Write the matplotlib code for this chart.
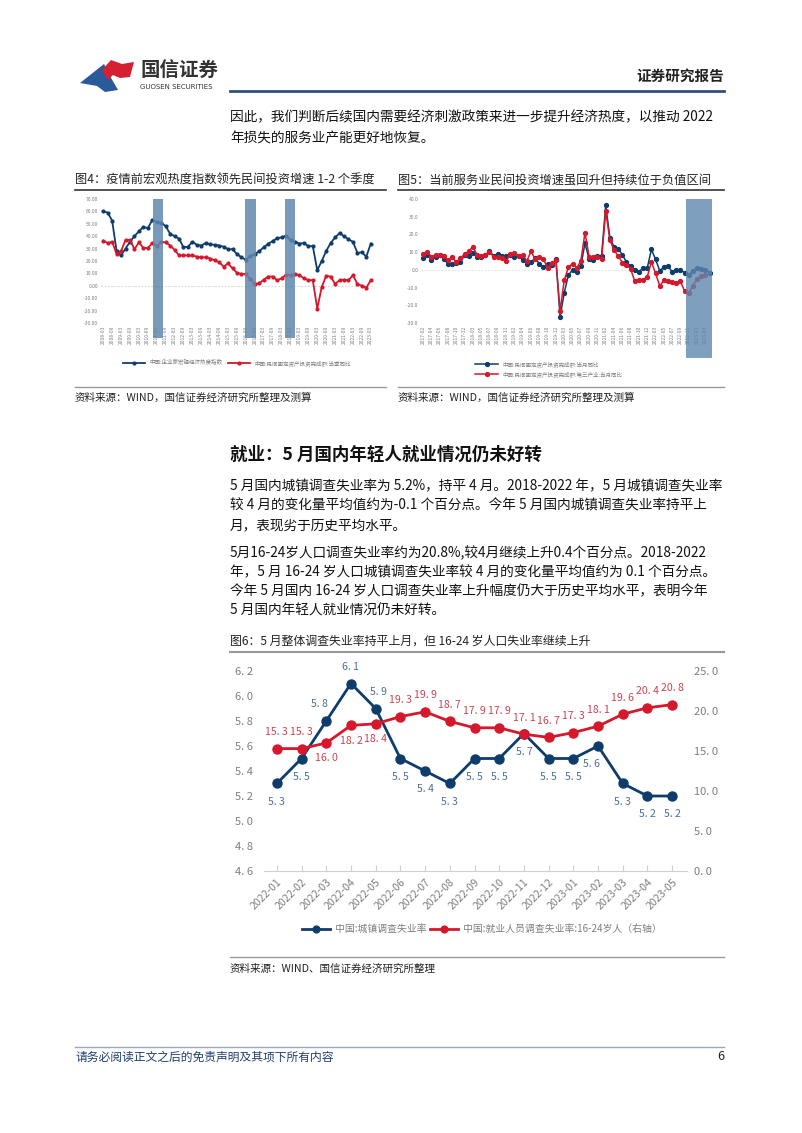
import matplotlib.pyplot as plt
import numpy as np

plt.rcParams['font.family'] = ['Noto Sans CJK SC', 'DejaVu Sans']
plt.rcParams['axes.unicode_minus'] = False

W, H = 802, 1133
BLUE = '#0f3d6b'
RED = '#d5182b'
BAND = '#5f87ae'
GRAY = '#7f7f7f'

# ---------- 图4 数据（季度）----------
q_labels = [f"{y}-{m:02d}" for y in range(2008, 2024) for m in (3, 6, 9, 12)][:61]
heat_index = [60, 59, 52.5, 28, 24.5, 30, 35.5, 40, 44, 47.5,
              46.5, 53, 51.5, 51, 48, 42, 40, 38, 31, 31.5,
              35.5, 33, 32.5, 34.5, 33.5, 33, 32.5, 31.5, 29.5, 29.5,
              25.5, 23, 21, 24, 25.5, 28, 31, 34, 36, 38.5,
              39, 40.5, 37, 35.5, 34, 34.5, 32, 32, 12.5, 20,
              28, 34.5, 39, 42.5, 40, 37.5, 35.5, 26.5, 27, 23.5, 34]
private_inv_q = [36.5, 34.5, 35.5, 25.5, 28, 37, 37, 29.5, 35, 30.5,
                 30.5, 34.5, 32, 35.5, 35, 32.5, 29, 24.5, 24.5, 24.5,
                 24.5, 23.5, 23, 23, 22, 20.5, 19, 15.5, 18, 14,
                 10.5, 9.5, 9.5, 5.5, 1.5, 2, 5, 7.5, 7.5, 4.5,
                 6, 9, 8.5, 9.5, 8.5, 6, 4.5, 4.5, -18.5, -1,
                 8, 7.5, 1.5, 4.5, 5, 4.5, 8.5, 1.5, 0, -1.5, 4.5]
bands4 = [(11.2, 13.5), (31.9, 34.2), (40.7, 42.9)]

# ---------- 图5 数据（月度，无1月）----------
m_labels = [f"{y}-{m:02d}" for y in range(2017, 2024) for m in range(2, 13)][:70]
private_inv_m = [6.5, 8.5, 5.5, 7, 8.5, 6, 3.5, 3.5, 4, 4.5, 8.5,
                 8, 9.5, 7.5, 7.5, 8.5, 10.5, 8, 9, 8, 8, 8.5,
                 7.5, 8, 5.5, 3.5, 4.5, 6.5, 3.5, 1.5, 3.5, 2.5, 6,
                 -26.5, -13, -3, 0, -1, 2, 15, 6, 5.5, 8, 8,
                 36.5, 18, 13, 12, 8.5, 4.5, 2, 0, -1, 1, 1,
                 11.5, 6, -0.5, 1.5, 2, -1, 0, 0, -1.5, -3, -0.5,
                 1, 0.5, 0, -1.5]
tertiary_inv_m = [9, 10, 7.5, 8.5, 8.5, 8, 5.5, 7, 4.5, 6.5, 9,
                  10.5, 13, 8.5, 8, 8.5, 10, 7.5, 7, 6.5, 5, 9,
                  9.5, 8, 8.5, 5, 10.5, 6, 7, 6, 1, 4, 5.5,
                  -23, -6, 1.5, 3.5, 1, 5, 21, 7.5, 7, 7, 6,
                  33, 17, 11, 8, 4, 3, 0.5, -6.5, -5.5, -5.5, -4,
                  4.5, -2, -9, -6, -6.5, -7, -7.5, -6.5, -12, -13, -9,
                  -5, -3.5, -3, np.nan]
band5 = (63.3, 69.6)

# ---------- 图6 数据 ----------
months6 = ['2022-01', '2022-02', '2022-03', '2022-04', '2022-05', '2022-06',
           '2022-07', '2022-08', '2022-09', '2022-10', '2022-11', '2022-12',
           '2023-01', '2023-02', '2023-03', '2023-04', '2023-05']
urban_rate = [5.3, 5.5, 5.8, 6.1, 5.9, 5.5, 5.4, 5.3, 5.5, 5.5, 5.7, 5.5,
              5.5, 5.6, 5.3, 5.2, 5.2]
youth_rate = [15.3, 15.3, 16.0, 18.2, 18.4, 19.3, 19.9, 18.7, 17.9, 17.9,
              17.1, 16.7, 17.3, 18.1, 19.6, 20.4, 20.8]


def fmt(v, d=1):
    return f"{v:.{d}f}".replace('.', '. ')


def rect(x0, y0, x1, y1):
    # 像素框（左上原点）转为 figure 坐标
    return [x0 / W, 1 - y1 / H, (x1 - x0) / W, (y1 - y0) / H]


fig = plt.figure(figsize=(W / 100, H / 100), dpi=100)
fig.patch.set_facecolor('white')

page = fig.add_axes([0, 0, 1, 1])
page.set_xlim(0, W)
page.set_ylim(H, 0)
page.axis('off')

# logo
page.add_patch(plt.Polygon([(80, 83), (104, 64), (110, 76), (118, 90), (105, 92), (97, 86)],
                           closed=True, color='#2a5a9a', lw=0))
page.add_patch(plt.Polygon([(102, 70), (111, 60), (122, 64), (134, 62), (130, 77), (120, 78),
                            (113, 75), (108, 80)], closed=True, color='#d42030', lw=0))
page.text(140, 71, '国信证券', fontsize=14, color='#333333', va='center', ha='left', fontweight='bold')
page.text(140, 87, 'GUOSEN SECURITIES', fontsize=5, color='#333333', va='center', ha='left',
          family=['Liberation Sans Narrow', 'DejaVu Sans'])
page.text(724, 76, '证券研究报告', fontsize=10.5, color='#222222', va='center', ha='right', fontweight='bold')
page.plot([230, 724], [91, 91], color='#2f4f7a', lw=2)

X0 = 230
body = dict(fontsize=9.85, color='#111111', va='center', ha='left')
page.text(X0, 117, '因此，我们判断后续国内需要经济刺激政策来进一步提升经济热度，以推动 2022', **body)
page.text(X0, 138, '年损失的服务业产能更好地恢复。', **body)

# 图4/图5 标题与来源
page.text(75, 180, '图4：疫情前宏观热度指数领先民间投资增速 1-2 个季度', fontsize=8.8, color='#222222', va='center')
page.text(398, 180, '图5：当前服务业民间投资增速虽回升但持续位于负值区间', fontsize=8.8, color='#222222', va='center')
page.plot([75, 386], [190, 190], color='#333333', lw=1.2)
page.plot([398, 724], [190, 190], color='#333333', lw=1.2)

page.plot([75, 386], [387, 387], color='#999999', lw=1)
page.plot([398, 724], [387, 387], color='#999999', lw=1)
page.text(75, 398, '资料来源：WIND，国信证券经济研究所整理及测算', fontsize=7.6, color='#222222', va='center')
page.text(398, 398, '资料来源：WIND，国信证券经济研究所整理及测算', fontsize=7.6, color='#222222', va='center')

page.text(X0, 455, '就业：5 月国内年轻人就业情况仍未好转', fontsize=12.6, color='#111111', va='center',
          fontweight='bold')
p1 = ['5 月国内城镇调查失业率为 5.2%，持平 4 月。2018-2022 年，5 月城镇调查失业率',
      '较 4 月的变化量平均值约为-0.1 个百分点。今年 5 月国内城镇调查失业率持平上',
      '月，表现劣于历史平均水平。']
p2 = ['5月16-24岁人口调查失业率约为20.8%,较4月继续上升0.4个百分点。2018-2022',
      '年，5 月 16-24 岁人口城镇调查失业率较 4 月的变化量平均值约为 0.1 个百分点。',
      '今年 5 月国内 16-24 岁人口调查失业率上升幅度仍大于历史平均水平，表明今年',
      '5 月国内年轻人就业情况仍未好转。']
for i, line in enumerate(p1):
    page.text(X0, 486 + 19.5 * i, line, **body)
for i, line in enumerate(p2):
    page.text(X0, 553 + 19.2 * i, line, **body)

page.text(X0, 641, '图6：5 月整体调查失业率持平上月，但 16-24 岁人口失业率继续上升', fontsize=8.6,
          color='#222222', va='center')
page.plot([X0, 724], [652, 652], color='#999999', lw=1.5)
page.plot([X0, 724], [957, 957], color='#999999', lw=1)
page.text(X0, 969, '资料来源：WIND、国信证券经济研究所整理', fontsize=7.6, color='#222222', va='center')

page.plot([75, 724], [1047, 1047], color='#9aa8bb', lw=1)
page.text(75, 1057, '请务必阅读正文之后的免责声明及其项下所有内容', fontsize=8.5, color='#1f3f6e',
          va='center', style='italic')
page.text(724, 1057, '6', fontsize=9, color='#222222', va='center', ha='right')

# ---------- 图4 ----------
ax4 = fig.add_axes(rect(101, 199, 373, 323))
x4 = np.arange(len(q_labels))
ax4.plot(x4, heat_index, color=BLUE, lw=1.3, marker='o', ms=2, zorder=3)
ax4.plot(x4, private_inv_q, color=RED, lw=1.3, marker='o', ms=2, zorder=3)
for a, b in bands4:
    ax4.axvspan(a, b, ymin=-0.12, ymax=1, color=BAND, alpha=0.85, lw=0, zorder=4, clip_on=False)
ax4.axhline(0, color='#cccccc', lw=0.6, ls=(0, (2, 2)), zorder=1)
ax4.set_xlim(-0.5, 60.5)
ax4.set_ylim(-30, 70)
ax4.set_yticks(np.arange(-30, 71, 10))
ax4.set_yticklabels([f"{v:.2f}" for v in np.arange(-30, 71, 10)])
ax4.set_xticks(x4[::2])
ax4.set_xticklabels(q_labels[::2], rotation=90)
ax4.tick_params(axis='both', labelsize=3.6, colors=GRAY, length=0, pad=2)
for s in ax4.spines.values():
    s.set_visible(False)
ax4.legend(['中国:企业家宏观经济热度指数', '中国:民间固定资产投资完成额:当季同比'],
           loc='center', bbox_to_anchor=(0.5, -0.32), ncol=2, frameon=False, fontsize=4,
           handlelength=4, columnspacing=1, labelcolor=GRAY)

# ---------- 图5 ----------
ax5 = fig.add_axes(rect(421, 199, 712, 323))
x5 = np.arange(len(m_labels))
ax5.plot(x5, private_inv_m, color=BLUE, lw=1.1, marker='o', ms=2.8, zorder=3)
ax5.plot(x5, tertiary_inv_m, color=RED, lw=1.1, marker='o', ms=2.8, zorder=3)
ax5.axvspan(band5[0], band5[1], ymin=-0.285, ymax=1, color=BAND, alpha=0.8, lw=0, zorder=4,
            clip_on=False)
ax5.axhline(0, color='#dddddd', lw=0.6, ls=(0, (2, 2)), zorder=1)
ax5.set_xlim(-0.5, 69.6)
ax5.set_ylim(-30, 40)
ax5.set_yticks(np.arange(-30, 41, 10))
ax5.set_yticklabels([f"{v:.1f}" for v in np.arange(-30, 41, 10)])
ax5.set_xticks(x5[::2])
ax5.set_xticklabels(m_labels[::2], rotation=90)
ax5.tick_params(axis='both', labelsize=3.6, colors=GRAY, length=0, pad=2)
for s in ax5.spines.values():
    s.set_visible(False)
ax5.legend(['中国:民间固定资产投资完成额:当月同比', '中国:民间固定资产投资完成额:第三产业:当月同比'],
           loc='upper left', bbox_to_anchor=(0.17, -0.27), ncol=1, frameon=False, fontsize=4,
           handlelength=4, labelspacing=0.6, labelcolor=GRAY)

# ---------- 图6 ----------
ax6 = fig.add_axes(rect(264, 671, 687, 871))
x6 = np.arange(len(months6))
ax6.plot(x6, urban_rate, color=BLUE, lw=2, marker='o', ms=6.5, zorder=3,
         label='中国:城镇调查失业率')
ax6.set_xlim(-0.52, 16.6)
ax6.set_ylim(4.6, 6.2)
ax6.set_yticks(np.arange(4.6, 6.21, 0.2))
ax6.set_yticklabels([fmt(v) for v in np.arange(4.6, 6.21, 0.2)])
ax6.set_xticks(x6)
ax6.set_xticklabels(months6, rotation=45, ha='right', rotation_mode='anchor')
ax6.tick_params(axis='y', labelsize=8, colors=GRAY, length=0, pad=8)
ax6.tick_params(axis='x', labelsize=7.6, colors=GRAY, direction='in', length=4, color='#d0d0d0',
                pad=4)
for k in ('left', 'right', 'top'):
    ax6.spines[k].set_visible(False)
ax6.spines['bottom'].set_color('#d0d0d0')

ax6r = ax6.twinx()
ax6r.plot(x6, youth_rate, color=RED, lw=2, marker='o', ms=6.5, zorder=3,
          label='中国:就业人员调查失业率:16-24岁人（右轴）')
ax6r.set_ylim(0, 25)
ax6r.set_yticks(np.arange(0, 26, 5))
ax6r.set_yticklabels([fmt(v) for v in np.arange(0, 26, 5)])
ax6r.tick_params(axis='y', labelsize=8, colors=GRAY, length=0, pad=5)
for s in ax6r.spines.values():
    s.set_visible(False)

blue_pos = ['b', 'b', 'al', 'a', 'ar', 'b', 'b', 'b', 'b', 'b', 'b', 'b', 'b', 'bl', 'b', 'b', 'b']
for i, v in enumerate(urban_rate):
    p = blue_pos[i]
    dy = 12 if p.startswith('a') else -13
    dx = -5 if p.endswith('l') else (2 if p.endswith('r') else 0)
    ax6.annotate(fmt(v), (i, v), xytext=(dx, dy), textcoords='offset points', ha='center',
                 va='center', fontsize=7.6, color='#4d6f97')
for i, v in enumerate(youth_rate):
    dy = -11 if i in (2, 3, 4) else 12
    ax6r.annotate(fmt(v), (i, v), xytext=(0, dy), textcoords='offset points', ha='center',
                  va='center', fontsize=7.6, color='#c9444f')

h1, l1 = ax6.get_legend_handles_labels()
h2, l2 = ax6r.get_legend_handles_labels()
ax6.legend(h1 + h2, l1 + l2, loc='center', bbox_to_anchor=(0.515, -0.29), ncol=2, frameon=False,
           fontsize=7.1, handlelength=2.8, columnspacing=0.4, handletextpad=0.5, labelcolor=GRAY,
           markerscale=0.75)

fig.savefig('out.png', dpi=100, facecolor='white')
